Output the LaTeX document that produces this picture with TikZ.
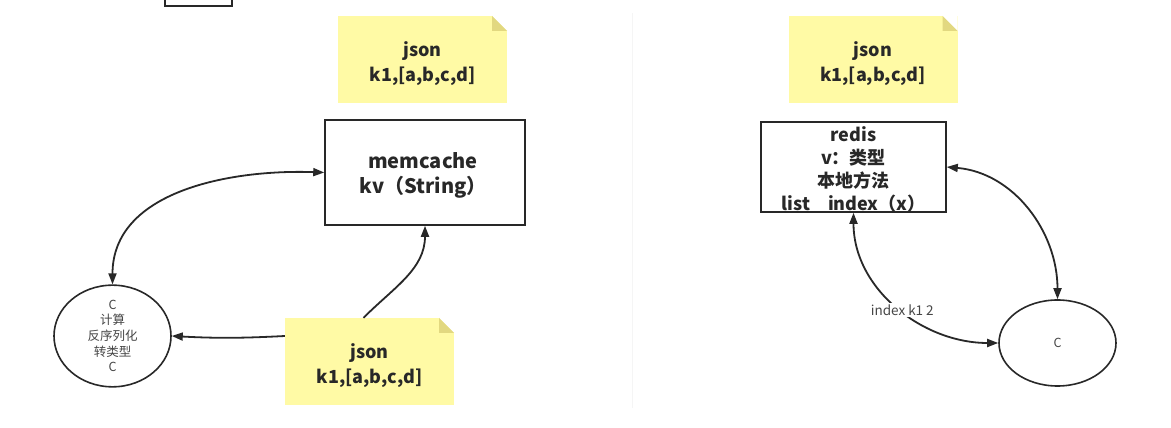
\documentclass[tikz,border=0pt]{standalone}
\usepackage{fontspec}
\setmainfont{Noto Sans CJK SC}
\usetikzlibrary{arrows.meta,shapes.geometric}
\definecolor{noteyellow}{RGB}{255,250,165}
\definecolor{notefold}{RGB}{226,216,128}
\definecolor{ink}{RGB}{40,40,40}
\definecolor{soft}{RGB}{70,70,70}
\begin{document}
\begin{tikzpicture}[x=1pt,y=1pt,
  notebox/.style={fill=noteyellow, minimum width=169pt, minimum height=87pt, inner sep=0pt,
    path picture={
      \fill[white] ([xshift=-15pt]path picture bounding box.north east) -- (path picture bounding box.north east) -- ([yshift=-15pt]path picture bounding box.north east) -- cycle;
      \fill[notefold] ([xshift=-15pt]path picture bounding box.north east) -- ([yshift=-15pt]path picture bounding box.north east) -- ([xshift=-15pt,yshift=-15pt]path picture bounding box.north east) -- cycle;
    }},
  notetext/.style={align=center, text=ink, inner sep=0pt, font=\fontsize{18}{25}\selectfont\bfseries},
  plainbox/.style={draw=ink, line width=1.6pt, fill=white, inner sep=0pt},
  ell/.style={ellipse, draw=ink, line width=1.6pt, fill=white, inner sep=0pt, align=center, text=soft,
    font=\fontsize{12.5}{15.6}\selectfont},
  conn/.style={draw=ink, line width=1.8pt, -{Triangle[length=11pt,width=8pt]}},
  conntwo/.style={draw=ink, line width=1.8pt, {Triangle[length=11pt,width=8pt]}-{Triangle[length=11pt,width=8pt]}},
  lbl/.style={fill=white, inner sep=1.5pt, text=soft, font=\fontsize{13.5}{15}\selectfont}
]
\useasboundingbox (0,0) rectangle (1171,428);
\fill[white] (0,0) rectangle (1171,428);
\draw[black!4, line width=1pt] (632,20) -- (632,415);

\node[plainbox, minimum width=67pt, minimum height=18pt] (topbox) at (198.5,431) {};
\node[notebox, label={[notetext, yshift=-4pt]center:json\\k1,[a,b,c,d]}] (n1) at (422.5,368.5) {};
\node[plainbox, minimum width=200pt, minimum height=105pt,
  label={[notetext, font=\fontsize{20}{25}\selectfont\bfseries, yshift=-3pt, xshift=-2pt]center:memcache\\kv（String）}] (mem) at (425,255.5) {};
\node[ell, minimum width=117pt, minimum height=88pt] (e1) at (112.5,92) {C\\计算\\反序列化\\转类型\\C};
\node[notebox, label={[notetext, yshift=-4pt]center:json\\k1,[a,b,c,d]}] (n2) at (369.5,66.5) {};

\node[notebox, label={[notetext, yshift=-4pt]center:json\\k1,[a,b,c,d]}] (n3) at (873,368.5) {};
\node[plainbox, minimum width=185pt, minimum height=90pt,
  label={[notetext, font=\fontsize{18}{23}\selectfont\bfseries, yshift=-2pt]center:redis\\v：类型\\本地方法\\list\quad index（x）}] (red) at (853.5,261) {};
\node[ell, minimum width=117pt, minimum height=86pt] (e2) at (1057.5,85) {C};

\draw[conntwo] (mem.west) to[out=178,in=90] (e1.north);
\draw[conn] ([xshift=-6pt]n2.north) to[out=45,in=-90] (mem.south);
\draw[conn] (n2.west |- e1.east) to[bend left=3] (e1.east);

\draw[conntwo] (red.east) to[out=-5,in=90] (e2.north);
\draw[conntwo] (red.south) to[out=-90,in=180] node[lbl, pos=0.53] {index k1 2} (e2.west);
\end{tikzpicture}
\end{document}
